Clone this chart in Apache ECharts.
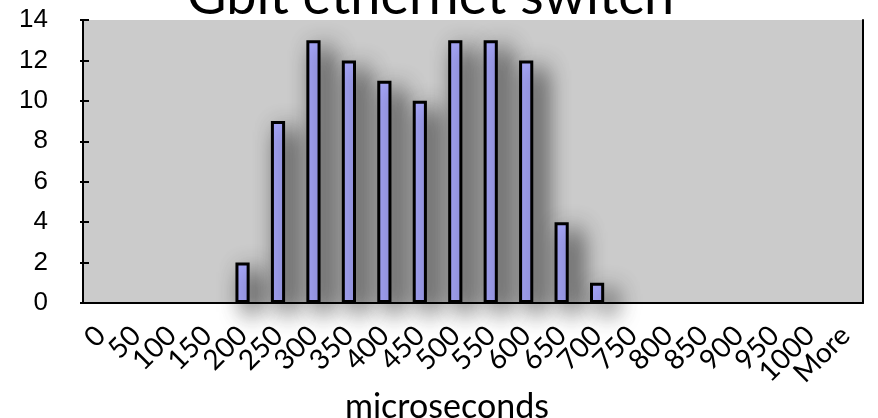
<!DOCTYPE html>
<html><head><meta charset="utf-8">
<script src="https://cdn.jsdelivr.net/npm/echarts@6/dist/echarts.min.js"></script>
<style>html,body{margin:0;padding:0;background:#fff}#c{width:878px;height:418px}</style>
</head><body><div id="c"></div>
<script>
const categories = ['0','50','100','150','200','250','300','350','400','450','500','550','600','650','700','750','800','850','900','950','1000','More'];
const counts = [0,0,0,0,2,9,13,12,11,10,13,13,12,4,1,0,0,0,0,0,0,0];
const yTicks = {min:0, max:14, interval:2};
const titleText = 'Gbit ethernet switch';
const xName = 'microseconds';

const chart = echarts.init(document.getElementById('c'));
const lineStyle = {color:'#000', width:2};
const barData = counts.map(v => v === 0
  ? {value:0, itemStyle:{borderWidth:0, shadowBlur:0, shadowColor:'transparent', opacity:0}}
  : v);
chart.setOption({
  animation:false,
  title:[
    {text:titleText, left:182, top:-35, textStyle:{fontFamily:'Lato', fontWeight:'normal', fontSize:54, color:'#000'}},
    {text:xName, left:340, top:385, textStyle:{fontFamily:'Lato', fontWeight:'normal', fontSize:34, color:'#000'}}
  ],
  grid:{left:83, right:15, top:20, bottom:115, show:true, backgroundColor:'#cbcbcb', borderWidth:0, outerBoundsMode:'none', containLabel:false},
  xAxis:[{
    type:'category', data:categories, position:'bottom',
    axisLine:{lineStyle}, axisTick:{length:5, lineStyle},
    axisLabel:{rotate:45, fontFamily:'Lato', fontSize:28, color:'#000', margin:28, interval:0}
  },{
    type:'category', data:categories, position:'bottom',
    axisLine:{show:false}, axisTick:{inside:true, length:4, lineStyle}, axisLabel:{show:false}
  }],
  yAxis:[{
    type:'value', position:'left', min:yTicks.min, max:yTicks.max, interval:yTicks.interval,
    axisLine:{show:true, lineStyle}, axisTick:{show:true, length:3, lineStyle},
    splitLine:{show:false},
    axisLabel:{fontFamily:'Liberation Sans', fontSize:26, color:'#000', margin:35}
  },{
    type:'value', position:'left', offset:0, min:yTicks.min, max:yTicks.max, interval:yTicks.interval,
    axisLine:{show:false}, axisTick:{show:true, inside:true, length:6, lineStyle},
    splitLine:{show:false}, axisLabel:{show:false}
  },{
    type:'value', position:'right', min:yTicks.min, max:yTicks.max, interval:yTicks.interval,
    axisLine:{show:true, lineStyle}, axisTick:{show:false}, splitLine:{show:false}, axisLabel:{show:false}
  }],
  series:[{
    type:'bar', data:barData, barWidth:'40%',
    itemStyle:{color:'#aaaaff', borderColor:'#000', borderWidth:3,
      shadowBlur:24, shadowColor:'rgba(0,0,0,0.8)', shadowOffsetX:10, shadowOffsetY:9}
  }]
});
</script></body></html>
